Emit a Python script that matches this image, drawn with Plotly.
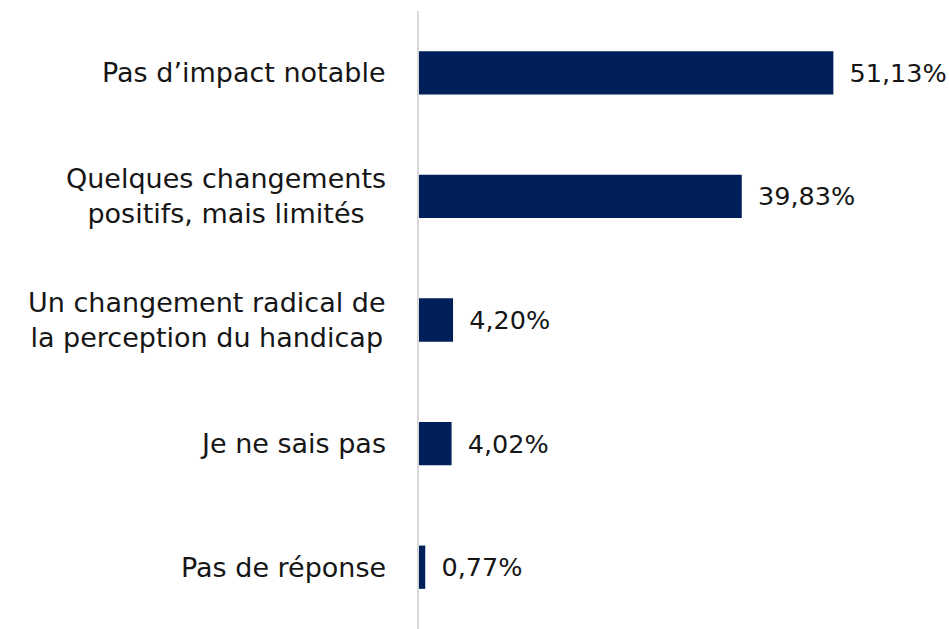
import plotly.graph_objects as go

categories = [
    "Pas d’impact notable",
    "Quelques changements<br>positifs, mais limités",
    "Un changement radical de<br>la perception du handicap",
    "Je ne sais pas",
    "Pas de réponse",
]
values = [51.13, 39.83, 4.20, 4.02, 0.77]

bar_color = "#001f5b"
font_family = "DejaVu Sans, sans-serif"
text_color = "#161616"

ids = list(range(len(categories)))

fig = go.Figure()
fig.add_trace(go.Bar(
    x=values,
    y=ids,
    orientation="h",
    marker=dict(color=bar_color, line=dict(width=0)),
    width=0.35,
    text=[(" \u2009" + f"{v:.2f}".replace(".", ",") + "%") for v in values],
    textposition="outside",
    textfont=dict(family=font_family, size=25.5, color=text_color),
    cliponaxis=False,
    hoverinfo="skip",
))

for i, c in zip(ids, categories):
    fig.add_annotation(
        x=0, xref="paper", y=i, yref="y",
        text=c, showarrow=False,
        xanchor="right", yanchor="middle", align="center",
        xshift=-31,
        font=dict(family=font_family, size=27, color=text_color),
    )

fig.update_layout(
    width=949, height=629,
    margin=dict(l=419, r=0, t=11, b=0),
    paper_bgcolor="white", plot_bgcolor="white",
    showlegend=False,
    bargap=0.65,
)
fig.update_xaxes(range=[0, 65.4], showgrid=False, zeroline=False, showticklabels=False, showline=False)
fig.update_yaxes(range=[4.5, -0.5], showgrid=False, zeroline=False, showticklabels=False,
                 showline=True, linecolor="#d9d9d9", linewidth=2)

fig.write_html(
    "out.html",
    config={"displayModeBar": False},
    post_script="document.body.style.margin='0';document.body.style.overflow='hidden';",
)
